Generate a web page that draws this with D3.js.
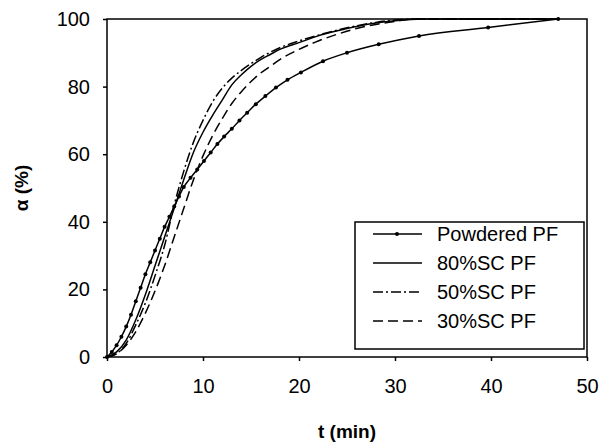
<!DOCTYPE html>
<html>
<head>
<meta charset="utf-8">
<script src="https://cdn.jsdelivr.net/npm/d3@7"></script>
<style>
  body { margin: 0; background: #fff; }
  text { font-family: "Liberation Sans", Arial, sans-serif; }
</style>
</head>
<body>
<svg id="chart" width="601" height="444"></svg>
<script>
// Data
const xTicks = [0, 10, 20, 30, 40, 50];
const yTicks = [0, 20, 40, 60, 80, 100];

const powderedT = [0, 0.5, 1, 1.5, 2, 2.5, 3, 3.5, 4, 4.5, 5, 5.5, 6, 6.5, 7, 7.5, 8, 8.7, 9.4, 10.1, 10.8, 11.5, 12.2, 13, 13.8, 14.6, 15.5, 16.5, 17.6, 18.8, 20.2, 22.5, 25, 28.3, 32.5, 39.7, 47];
const powderedA = [0, 1.5, 3.5, 6, 9, 12.5, 16.5, 20.5, 24.5, 28, 31.5, 35, 38.5, 41.5, 44.5, 47.5, 50.3, 53, 55.5, 58, 60.5, 63, 65.2, 67.5, 70, 72.3, 74.8, 77.2, 79.7, 82, 84.2, 87.5, 90, 92.5, 95, 97.5, 100];

const sc80T = [0, 1, 2, 3, 4, 5, 6, 7, 8, 9, 10, 11, 12, 13, 14, 15, 16, 17, 18, 20, 22, 24, 26, 28, 30, 33, 47];
const sc80A = [0, 1.5, 5, 11, 18.5, 27, 35.5, 44, 52.5, 60.5, 66.5, 71.5, 76, 80.5, 83.5, 86, 88, 89.5, 91, 93, 95, 96.5, 97.8, 98.8, 99.5, 100, 100];

const sc50T = [0, 1, 2, 3, 4, 5, 6, 7, 8, 9, 10, 11, 12, 13, 14, 15, 16, 18, 20, 22, 24, 26, 28, 30, 32, 47];
const sc50A = [0, 1, 4, 9.5, 16, 24, 33, 45, 55, 63.5, 70, 75.5, 79.5, 82.5, 84.8, 86.8, 88.6, 91.5, 93.5, 95.2, 96.7, 98, 99, 99.7, 100, 100];

const sc30T = [0, 1, 2, 3, 4, 5, 6, 7, 8, 9, 10, 11, 12, 13, 14, 15, 16, 17, 18, 20, 22, 24, 26, 28, 30, 32, 47];
const sc30A = [0, 1, 3.5, 7.5, 13, 19.5, 27, 35.5, 44, 52.4, 59.5, 65.5, 70.5, 75, 78.5, 81.5, 84, 86, 88, 91, 93.5, 95.5, 97.2, 98.4, 99.3, 100, 100];

const seriesNames = ["Powdered PF", "80%SC PF", "50%SC PF", "30%SC PF"];
const seriesDash = [null, null, "10,3,2,3", "10,5"];

const size = {
    width: 601,
    height: 444,
    margin: { top: 19, right: 14, bottom: 87, left: 107 }
};

const svg = d3.select("#chart");

// Scales
const xScale = d3.scaleLinear()
    .domain([0, 50])
    .range([size.margin.left, size.width - size.margin.right]);

const yScale = d3.scaleLinear()
    .domain([0, 100])
    .range([size.height - size.margin.bottom, size.margin.top]);

const zip = (ts, as) => ts.map((t, i) => ({ t: t, a: as[i] }));
const series = [
    zip(powderedT, powderedA),
    zip(sc80T, sc80A),
    zip(sc50T, sc50A),
    zip(sc30T, sc30A)
];

const line = d3.line()
    .x(d => xScale(d.t))
    .y(d => yScale(d.a))
    .curve(d3.curveMonotoneX);

// Curves
series.forEach((s, i) => {
    svg.append("path")
        .datum(s)
        .attr("d", line)
        .attr("fill", "none")
        .attr("stroke", "#000")
        .attr("stroke-width", 1.5)
        .attr("stroke-dasharray", seriesDash[i]);
});

// Markers on the powdered series
svg.selectAll(".dot")
    .data(series[0])
    .join("circle")
    .attr("class", "dot")
    .attr("cx", d => xScale(d.t))
    .attr("cy", d => yScale(d.a))
    .attr("r", 2)
    .attr("fill", "#000");

// Frame
svg.append("rect")
    .attr("x", xScale(0))
    .attr("y", yScale(100))
    .attr("width", xScale(50) - xScale(0))
    .attr("height", yScale(0) - yScale(100))
    .attr("fill", "none")
    .attr("stroke", "#000")
    .attr("stroke-width", 1.5);

// X axis
const xAxis = svg.append("g")
    .attr("transform", `translate(0, ${yScale(0)})`)
    .call(d3.axisBottom(xScale).tickValues(xTicks).tickSize(4).tickPadding(18));
xAxis.select(".domain").remove();
xAxis.selectAll("line").attr("stroke-width", 1.5);
xAxis.selectAll("text")
    .attr("font-size", 20)
    .attr("font-family", "Liberation Sans, Arial, sans-serif")
    .attr("fill", "#000");

// Y axis
const yAxis = svg.append("g")
    .attr("transform", `translate(${xScale(0)}, 0)`)
    .call(d3.axisLeft(yScale).tickValues(yTicks).tickSize(4).tickPadding(13));
yAxis.select(".domain").remove();
yAxis.selectAll("line").attr("stroke-width", 1.5);
yAxis.selectAll("text")
    .attr("font-size", 20)
    .attr("font-family", "Liberation Sans, Arial, sans-serif")
    .attr("fill", "#000");

// Axis titles
svg.append("text")
    .attr("x", 347)
    .attr("y", 438)
    .attr("text-anchor", "middle")
    .attr("font-size", 19)
    .attr("font-weight", "bold")
    .text("t (min)");

svg.append("text")
    .attr("transform", "translate(28, 188) rotate(-90)")
    .attr("text-anchor", "middle")
    .attr("font-size", 19)
    .attr("font-weight", "bold")
    .text("α (%)");

// Legend
const legend = svg.append("g");
legend.append("rect")
    .attr("x", 355)
    .attr("y", 222)
    .attr("width", 229)
    .attr("height", 127)
    .attr("fill", "#fff")
    .attr("stroke", "#000")
    .attr("stroke-width", 1.5);

seriesNames.forEach((name, i) => {
    const ly = 234 + i * 29;
    legend.append("line")
        .attr("x1", 373)
        .attr("x2", 422)
        .attr("y1", ly)
        .attr("y2", ly)
        .attr("stroke", "#000")
        .attr("stroke-width", 1.5)
        .attr("stroke-dasharray", seriesDash[i]);
    if (i === 0) {
        legend.append("circle")
            .attr("cx", 397)
            .attr("cy", ly)
            .attr("r", 2)
            .attr("fill", "#000");
    }
    legend.append("text")
        .attr("x", 437)
        .attr("y", ly + 7)
        .attr("font-size", 20)
        .text(name);
});
</script>
</body>
</html>
